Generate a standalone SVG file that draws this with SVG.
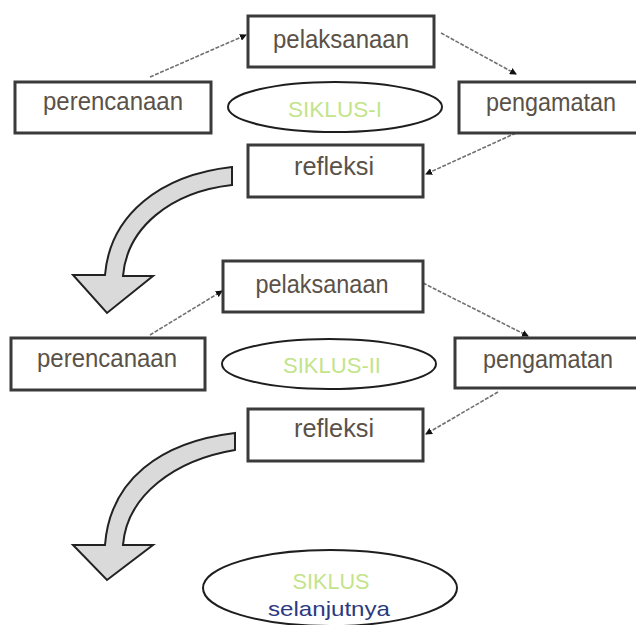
<svg xmlns="http://www.w3.org/2000/svg" width="636" height="625" viewBox="0 0 636 625">
<style>
.box{fill:#fff;stroke:#3a3a3a;stroke-width:3}
.lbl{font-family:"Liberation Sans",Arial,sans-serif;font-size:25px;fill:#5a5148;text-anchor:middle}
.sik{font-family:"Liberation Sans",Arial,sans-serif;font-size:22px;fill:#c3e48a;text-anchor:middle}
.sel{font-family:"Liberation Sans",Arial,sans-serif;font-size:21px;fill:#2b3a80;text-anchor:middle}
.ell{fill:#fff;stroke:#1e1e1e;stroke-width:2}
.con{fill:none;stroke:#707070;stroke-width:1.6;stroke-dasharray:4 1.5}
.big{fill:#dadada;stroke:#222;stroke-width:2;stroke-linejoin:miter}
</style>
<defs>
<marker id="ah" markerUnits="userSpaceOnUse" markerWidth="7" markerHeight="7" refX="6" refY="3.5" orient="auto">
<path d="M0,0 L7,3.5 L0,7 z" fill="#111"/>
</marker>
</defs>
<rect width="636" height="625" fill="#fff"/>
<g id="connectors">
<line class="con" x1="150" y1="77" x2="246" y2="35" marker-end="url(#ah)"/>
<line class="con" x1="441" y1="33" x2="516" y2="74" marker-end="url(#ah)"/>
<line class="con" x1="516" y1="133" x2="426" y2="174" marker-end="url(#ah)"/>
<line class="con" x1="150" y1="335" x2="222" y2="291" marker-end="url(#ah)"/>
<line class="con" x1="423" y1="283" x2="528" y2="336" marker-end="url(#ah)"/>
<line class="con" x1="498" y1="392" x2="426" y2="434" marker-end="url(#ah)"/>
<path class="big" d="M232 167 C160 175 110 215 105 275 L73 275 L107 313 L153 276 L123 276 C127 228 170 192 232 185 Z"/>
<path class="big" d="M235 433 C160 442 110 480 105 545 L73 545 L107 580 L153 545 L123 545 C127 495 175 460 235 450 Z"/>
</g>
<g id="pelaksanaan1"><rect class="box" x="248" y="16" width="186" height="51"/><text class="lbl" x="341" y="48" textLength="136" lengthAdjust="spacingAndGlyphs">pelaksanaan</text></g>
<g id="perencanaan1"><rect class="box" x="15" y="82" width="196" height="51"/><text class="lbl" x="113" y="110" textLength="140" lengthAdjust="spacingAndGlyphs">perencanaan</text></g>
<g id="siklus1"><ellipse class="ell" cx="335" cy="107" rx="107" ry="25"/><text class="sik" x="335" y="117" textLength="94" lengthAdjust="spacingAndGlyphs">SIKLUS-I</text></g>
<g id="pengamatan1"><rect class="box" x="459" y="82" width="185" height="51"/><text class="lbl" x="551" y="111" textLength="130" lengthAdjust="spacingAndGlyphs">pengamatan</text></g>
<g id="refleksi1"><rect class="box" x="248" y="145" width="175" height="52"/><text class="lbl" x="334" y="175" textLength="80" lengthAdjust="spacingAndGlyphs">refleksi</text></g>
<g id="pelaksanaan2"><rect class="box" x="223" y="261" width="200" height="51"/><text class="lbl" x="322" y="293" textLength="133" lengthAdjust="spacingAndGlyphs">pelaksanaan</text></g>
<g id="perencanaan2"><rect class="box" x="11" y="338" width="194" height="52"/><text class="lbl" x="107" y="367" textLength="140" lengthAdjust="spacingAndGlyphs">perencanaan</text></g>
<g id="siklus2"><ellipse class="ell" cx="329" cy="364" rx="107" ry="25"/><text class="sik" x="332" y="373" textLength="98" lengthAdjust="spacingAndGlyphs">SIKLUS-II</text></g>
<g id="pengamatan2"><rect class="box" x="455" y="338" width="189" height="50"/><text class="lbl" x="548" y="368" textLength="130" lengthAdjust="spacingAndGlyphs">pengamatan</text></g>
<g id="refleksi2"><rect class="box" x="248" y="409" width="175" height="52"/><text class="lbl" x="334" y="437" textLength="80" lengthAdjust="spacingAndGlyphs">refleksi</text></g>
<g id="siklus3"><ellipse class="ell" cx="330" cy="588" rx="127" ry="38"/><text class="sik" x="331" y="589" textLength="77" lengthAdjust="spacingAndGlyphs">SIKLUS</text><text class="sel" x="329" y="616" textLength="122" lengthAdjust="spacingAndGlyphs">selanjutnya</text></g>
</svg>
